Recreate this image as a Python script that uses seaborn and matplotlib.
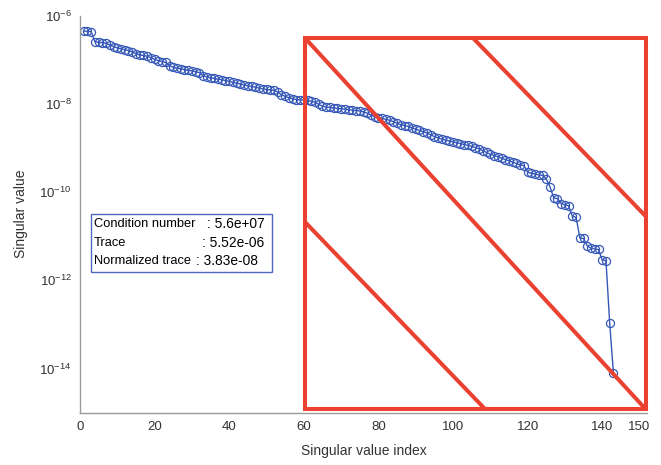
import numpy as np
import pandas as pd
import matplotlib
matplotlib.use("Agg")
import matplotlib.pyplot as plt
from matplotlib.lines import Line2D
from matplotlib.patches import Rectangle
import seaborn as sns

# log10 of the singular values, in index order (1..143)
log_sigma = [
    -6.35, -6.35, -6.36,
    -6.59, -6.60, -6.61, -6.63, -6.66, -6.70, -6.73,
    -6.75, -6.77, -6.79, -6.82, -6.86, -6.89, -6.90, -6.92, -6.95, -6.99,
    -7.02, -7.04, -7.06, -7.13, -7.17, -7.19, -7.20, -7.22, -7.24, -7.25,
    -7.27, -7.29, -7.36, -7.39, -7.41, -7.42, -7.44, -7.45, -7.47, -7.49,
    -7.51, -7.53, -7.55, -7.57, -7.59, -7.60, -7.62, -7.64, -7.66, -7.67,
    -7.68, -7.69, -7.73, -7.79, -7.83, -7.86, -7.88, -7.90, -7.91, -7.91,
    -7.92, -7.94, -7.96, -8.01, -8.05, -8.07, -8.08, -8.09, -8.10, -8.11,
    -8.12, -8.13, -8.14, -8.15, -8.16, -8.18, -8.21, -8.25, -8.29, -8.31,
    -8.33, -8.35, -8.37, -8.40, -8.44, -8.47, -8.49, -8.51, -8.54, -8.57,
    -8.60, -8.63, -8.66, -8.70, -8.74, -8.77, -8.80, -8.82, -8.84, -8.86,
    -8.88, -8.90, -8.92, -8.94, -8.96, -8.99, -9.02, -9.06, -9.10, -9.14,
    -9.17, -9.20, -9.23, -9.26, -9.29, -9.32, -9.35, -9.38, -9.40, -9.55,
    -9.57, -9.59, -9.61, -9.62, -9.70, -9.88, -10.13, -10.15, -10.26, -10.29,
    -10.31, -10.55, -10.57, -11.04, -11.05, -11.22, -11.27, -11.29, -11.30, -11.54,
    -11.55, -12.97, -14.10,
]
sv_index = list(range(1, len(log_sigma) + 1))
sv_value = [10.0 ** v for v in log_sigma]

x_ticks = [0, 20, 40, 60, 80, 100, 120, 140, 150]
y_ticks = [1e-6, 1e-8, 1e-10, 1e-12, 1e-14]
y_tick_labels = [r"$10^{-6}$", r"$10^{-8}$", r"$10^{-10}$", r"$10^{-12}$", r"$10^{-14}$"]

stat_names = ["Condition number", "Trace", "Normalized trace"]
stat_values = [": 5.6e+07", ": 5.52e-06", ": 3.83e-08"]

df = pd.DataFrame({"index": sv_index, "value": sv_value})

sns.set_style("white")
plt.rcParams["font.family"] = ["Liberation Sans", "DejaVu Sans"]
plt.rcParams["mathtext.fontset"] = "custom"
plt.rcParams["mathtext.rm"] = "Liberation Sans"
plt.rcParams["mathtext.it"] = "Liberation Sans:italic"

W, H = 661, 465
fig = plt.figure(figsize=(W / 100, H / 100), dpi=100)

def fx(px):
    return px / W

def fy(py):
    return 1 - py / H

ax_left, ax_right, ax_top, ax_bottom = 80, 647, 15.7, 412.7
ax = fig.add_axes([fx(ax_left), fy(ax_bottom), fx(ax_right) - fx(ax_left), fy(ax_top) - fy(ax_bottom)])

blue = "#3457B8"
sns.lineplot(data=df, x="index", y="value", ax=ax, color=blue, linewidth=1.0,
             marker="o", markersize=5.8, markerfacecolor="none",
             markeredgecolor=blue, markeredgewidth=0.9)

ax.set_yscale("log")
ax.set_xlim(0, 152)
ax.set_ylim(1e-15, 1e-6)
ax.set_xticks(x_ticks)
ax.set_xticklabels([str(t) for t in x_ticks])
ax.set_yticks(y_ticks)
ax.set_yticklabels(y_tick_labels)
ax.yaxis.set_minor_locator(matplotlib.ticker.NullLocator())

axis_gray = "#9a9a9a"
text_gray = "#333333"
for side in ["top", "right"]:
    ax.spines[side].set_visible(False)
for side in ["left", "bottom"]:
    ax.spines[side].set_color(axis_gray)
    ax.spines[side].set_linewidth(1.0)
ax.tick_params(axis="both", which="major", direction="in", length=4, width=0.8,
               color=axis_gray, labelsize=9.5, labelcolor=text_gray, pad=6)

ax.set_xlabel("Singular value index", fontsize=10, color=text_gray, labelpad=8)
ax.set_ylabel("Singular value", fontsize=10, color=text_gray, labelpad=8)

# statistics box
fig.add_artist(Rectangle((fx(91), fy(272)), fx(272) - fx(91), fy(214) - fy(272),
                         transform=fig.transFigure, fill=True, facecolor="white",
                         edgecolor="#5068C0", linewidth=1.0))
rows_y = [224, 242.5, 261]
value_x = [207, 201.5, 196.5]
for name, val, ry, vx in zip(stat_names, stat_values, rows_y, value_x):
    fig.text(fx(93.5), fy(ry), name, fontsize=9.3, color="black", va="center", ha="left")
    fig.text(fx(vx), fy(ry), val, fontsize=9.9, color="black", va="center", ha="left")

# red highlight frame with diagonal hatching
red = "#EA4130"
lw = 2.9
fig.add_artist(Rectangle((fx(305), fy(409)), fx(645.5) - fx(305), fy(38) - fy(409),
                         transform=fig.transFigure, fill=False, edgecolor=red,
                         linewidth=lw, joinstyle="miter"))
for (x0, y0), (x1, y1) in [((305, 38), (645.5, 409)),
                           ((473, 38), (645.5, 216)),
                           ((305, 222), (485, 409))]:
    fig.add_artist(Line2D([fx(x0), fx(x1)], [fy(y0), fy(y1)], transform=fig.transFigure,
                          color=red, linewidth=lw, solid_capstyle="butt"))

fig.savefig("out.png", dpi=100)
